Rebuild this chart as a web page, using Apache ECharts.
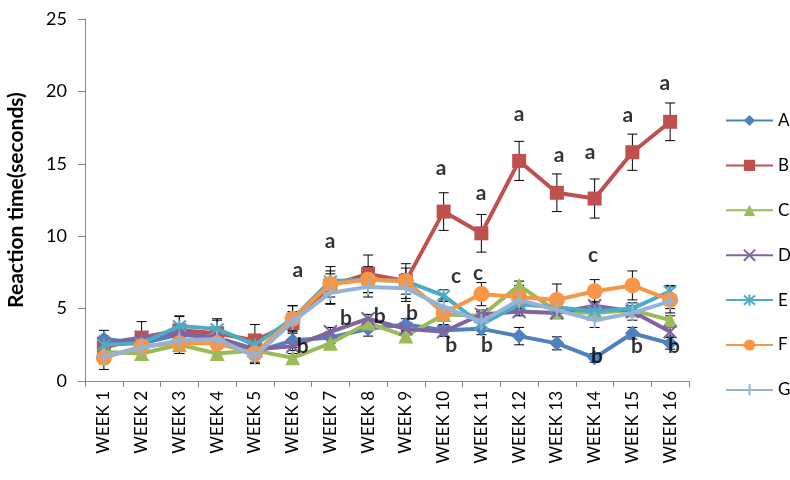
<!DOCTYPE html>
<html>
<head>
<meta charset="utf-8">
<script src="https://cdn.jsdelivr.net/npm/echarts@6/dist/echarts.min.js"></script>
<style>
  html, body { margin: 0; padding: 0; background: #ffffff; }
  #chart { width: 790px; height: 480px; }
</style>
</head>
<body>
<div id="chart"></div>
<script>
// Categories
const weeks = ['WEEK 1', 'WEEK 2', 'WEEK 3', 'WEEK 4', 'WEEK 5', 'WEEK 6', 'WEEK 7', 'WEEK 8',
  'WEEK 9', 'WEEK 10', 'WEEK 11', 'WEEK 12', 'WEEK 13', 'WEEK 14', 'WEEK 15', 'WEEK 16'];

// Mean reaction time (seconds) per group
const groupA = [2.9, 2.6, 3.2, 3.0, 2.0, 2.8, 3.0, 3.6, 3.9, 3.5, 3.6, 3.1, 2.6, 1.6, 3.3, 2.6];
const groupB = [2.3, 3.0, 3.5, 3.3, 2.8, 4.0, 6.6, 7.4, 6.9, 11.7, 10.2, 15.2, 13.0, 12.6, 15.8, 17.9];
const groupC = [2.0, 1.9, 2.5, 1.9, 2.1, 1.6, 2.6, 4.0, 3.1, 4.6, 4.5, 6.6, 4.8, 4.7, 4.9, 4.2];
const groupD = [2.6, 3.0, 3.3, 3.0, 2.2, 2.4, 3.4, 4.3, 3.6, 3.4, 4.6, 4.8, 4.7, 5.2, 4.8, 3.4];
const groupE = [2.5, 2.6, 3.8, 3.6, 2.5, 4.3, 6.9, 7.0, 6.9, 5.9, 3.9, 5.3, 5.1, 4.8, 5.0, 6.2];
const groupF = [1.6, 2.4, 2.6, 2.6, 1.9, 4.3, 6.7, 7.0, 6.9, 4.7, 6.0, 5.8, 5.6, 6.2, 6.6, 5.6];
const groupG = [1.7, 2.3, 2.8, 2.9, 1.7, 4.1, 6.1, 6.5, 6.4, 5.1, 4.1, 5.6, 4.9, 4.2, 4.7, 5.5];

// Standard error per group
const errA = [0.6, 0.5, 0.5, 0.5, 0.4, 0.5, 0.4, 0.5, 0.4, 0.4, 0.4, 0.6, 0.45, 0.3, 0.4, 0.4];
const errB = [0.8, 1.1, 1.0, 1.0, 1.1, 1.2, 1.3, 1.3, 1.2, 1.3, 1.3, 1.35, 1.3, 1.35, 1.25, 1.3];
const errC = [0.3, 0.3, 0.3, 0.3, 0.3, 0.3, 0.3, 0.3, 0.3, 0.3, 0.3, 0.3, 0.3, 0.3, 0.3, 0.3];
const errD = [0.3, 0.3, 0.3, 0.3, 0.3, 0.3, 0.3, 0.3, 0.3, 0.3, 0.3, 0.3, 0.3, 0.3, 0.3, 0.3];
const errE = [0.5, 0.5, 0.65, 0.6, 0.4, 0.5, 0.5, 0.5, 0.5, 0.4, 0.4, 0.4, 0.4, 0.4, 0.4, 0.4];
const errF = [0.8, 0.8, 0.7, 0.6, 0.6, 0.9, 0.9, 0.9, 0.9, 0.9, 0.8, 0.8, 1.1, 0.8, 1.0, 0.9];
const errG = [0.5, 0.85, 0.9, 0.6, 0.5, 0.6, 0.75, 0.7, 0.9, 0.6, 0.6, 0.6, 0.6, 0.5, 0.5, 0.5];

// Significance letters: text, week position, height (seconds)
const letterText  = ['a', 'a', 'a', 'a', 'a', 'a', 'a', 'a', 'a',
  'b', 'b', 'b', 'b', 'b', 'b', 'b', 'b', 'b', 'c', 'c', 'c'];
const letterWeek  = [6.14, 6.99, 9.93, 10.99, 12.0, 13.06, 13.88, 14.88, 15.86,
  6.27, 7.41, 8.31, 9.16, 10.2, 11.15, 14.06, 15.12, 16.1, 10.33, 10.91, 13.96];
const letterValue = [7.67, 9.67, 14.7, 13.0, 18.4, 15.6, 15.8, 18.35, 20.56,
  2.42, 4.33, 4.44, 4.67, 2.49, 2.49, 1.68, 2.37, 2.37, 7.25, 7.44, 8.7];

const groupNames = ['A', 'B', 'C', 'D', 'E', 'F', 'G'];
const groupValues = [groupA, groupB, groupC, groupD, groupE, groupF, groupG];
const groupErrors = [errA, errB, errC, errD, errE, errF, errG];

const FONT = 'Lato, "Open Sans", sans-serif';
const colors = ['#4F81BD', '#C0504D', '#9BBB59', '#8064A2', '#4BACC6', '#F79646', '#95B3D7'];
const markers = [
  { symbol: 'diamond', size: 15, stroke: 0 },
  { symbol: 'rect', size: 14, stroke: 0 },
  { symbol: 'triangle', size: 15, stroke: 0 },
  { symbol: 'path://M0,0L10,10M10,0L0,10', size: 13, stroke: 2 },
  { symbol: 'path://M0,0L10,10M10,0L0,10M5,-1L5,11', size: 13, stroke: 2 },
  { symbol: 'circle', size: 16, stroke: 0 },
  { symbol: 'path://M5,0L5,10M0,5L10,5', size: 16, stroke: 2 }
];

function renderErrorBar(params, api) {
  const idx = api.value(0);
  const lo = api.coord([idx, api.value(1)]);
  const hi = api.coord([idx, api.value(2)]);
  const cap = 5;
  const style = { stroke: '#000000', lineWidth: 1 };
  return {
    type: 'group',
    children: [
      { type: 'line', shape: { x1: lo[0], y1: lo[1], x2: hi[0], y2: hi[1] }, style: style },
      { type: 'line', shape: { x1: lo[0] - cap, y1: lo[1], x2: lo[0] + cap, y2: lo[1] }, style: style },
      { type: 'line', shape: { x1: hi[0] - cap, y1: hi[1], x2: hi[0] + cap, y2: hi[1] }, style: style }
    ]
  };
}

const series = [];
groupNames.forEach(function (name, i) {
  const vals = groupValues[i];
  const errs = groupErrors[i];
  // error bars sit underneath every line and marker
  series.push({
    name: name + ' error',
    type: 'custom',
    renderItem: renderErrorBar,
    xAxisIndex: 0,
    yAxisIndex: 0,
    z: 5,
    silent: true,
    data: vals.map(function (v, k) { return [k, v - errs[k], v + errs[k]]; })
  });
  series.push({
    name: name,
    type: 'line',
    xAxisIndex: 0,
    yAxisIndex: 0,
    z: 10 + i,
    data: vals,
    symbol: markers[i].symbol,
    symbolSize: markers[i].size,
    showAllSymbol: true,
    lineStyle: { color: colors[i], width: 4 },
    itemStyle: {
      color: colors[i],
      borderColor: colors[i],
      borderWidth: markers[i].stroke
    },
    emphasis: { disabled: true },
    animation: false
  });
});

series.push({
  name: 'letters',
  type: 'scatter',
  xAxisIndex: 1,
  yAxisIndex: 0,
  z: 40,
  symbol: 'circle',
  symbolSize: 1,
  itemStyle: { color: 'rgba(0,0,0,0)' },
  label: {
    show: true,
    position: 'inside',
    formatter: function (p) { return p.name; },
    color: '#000000',
    fontFamily: FONT,
    fontWeight: 'bold',
    fontSize: 21
  },
  data: letterText.map(function (t, k) {
    return { name: t, value: [letterWeek[k], letterValue[k]] };
  }),
  animation: false
});

const chart = echarts.init(document.getElementById('chart'), null, { renderer: 'canvas' });
chart.setOption({
  backgroundColor: '#ffffff',
  animation: false,
  grid: { left: 85, right: 101, top: 19, bottom: 99, containLabel: false, outerBoundsMode: 'none' },
  legend: {
    orient: 'vertical',
    left: 725,
    top: 112,
    padding: 0,
    itemWidth: 47,
    itemHeight: 14,
    itemGap: 27.9,
    data: groupNames,
    textStyle: { fontFamily: FONT, fontSize: 17, color: '#000000' }
  },
  xAxis: [
    {
      type: 'category',
      data: weeks,
      boundaryGap: true,
      axisLine: { lineStyle: { color: '#868686', width: 1 } },
      axisTick: { show: true, alignWithLabel: false, length: 6, lineStyle: { color: '#868686' } },
      axisLabel: {
        interval: 0,
        rotate: 90,
        margin: 10,
        color: '#000000',
        fontFamily: FONT,
        fontSize: 17
      },
      splitLine: { show: false }
    },
    {
      type: 'value',
      min: 0.5,
      max: 16.5,
      show: false
    }
  ],
  yAxis: {
    type: 'value',
    min: 0,
    max: 25,
    interval: 5,
    name: 'Reaction time(seconds)',
    nameLocation: 'middle',
    nameGap: 58,
    nameTextStyle: { fontFamily: FONT, fontWeight: 'bold', fontSize: 21, color: '#000000' },
    axisLine: { show: true, lineStyle: { color: '#868686', width: 1 } },
    axisTick: { show: true, length: 7, lineStyle: { color: '#868686' } },
    axisLabel: { margin: 18, color: '#000000', fontFamily: FONT, fontSize: 18 },
    splitLine: { show: false }
  },
  series: series
});
</script>
</body>
</html>
